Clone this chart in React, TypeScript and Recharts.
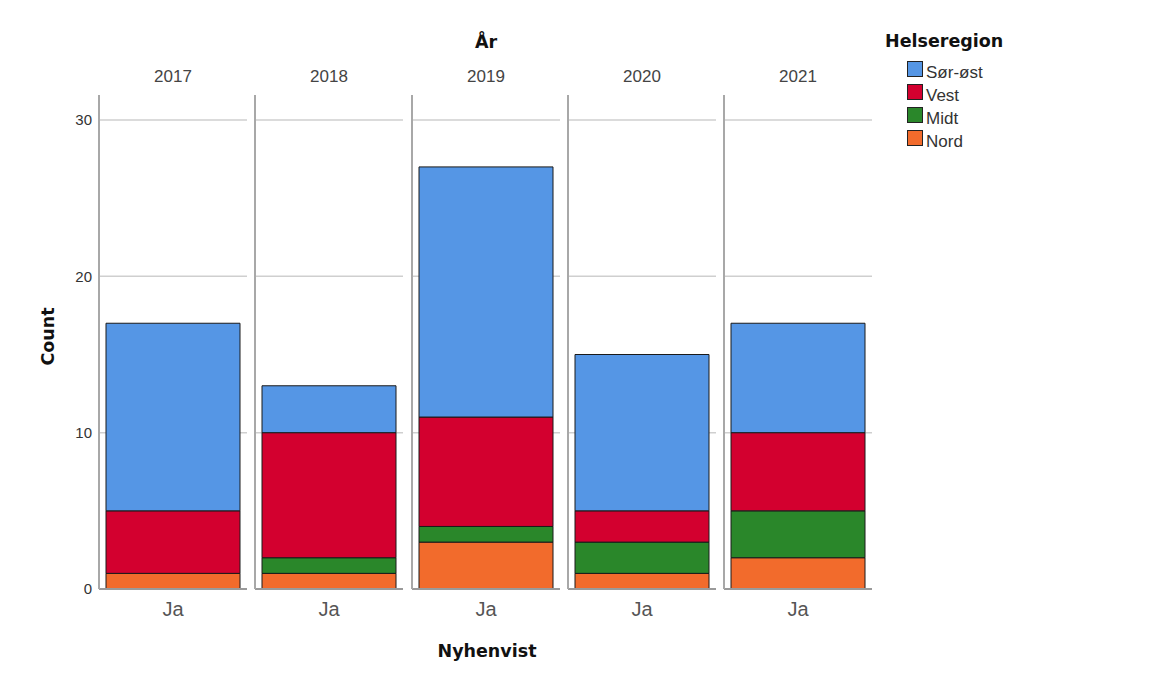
import React from 'react';
import { BarChart, Bar, XAxis, YAxis, CartesianGrid } from 'recharts';

// ---- data ----
const years = ['2017', '2018', '2019', '2020', '2021'];
const categories = ['Ja'];
const nord = [1, 1, 3, 1, 2];
const midt = [0, 1, 1, 2, 3];
const vest = [4, 8, 7, 2, 5];
const sorOst = [12, 3, 16, 10, 7];
const yTicks = [0, 10, 20, 30];

const series = [
  { key: 'nord', name: 'Nord', values: nord, color: '#F26B2C' },
  { key: 'midt', name: 'Midt', values: midt, color: '#2A872A' },
  { key: 'vest', name: 'Vest', values: vest, color: '#D3002F' },
  { key: 'sorOst', name: 'Sør-øst', values: sorOst, color: '#5596E5' },
];

// ---- layout ----
const PLOT_LEFT = 99;
const PLOT_TOP = 95;
const PLOT_BOTTOM = 589;
const PANEL_W = 148;
const STRIDE = 156.25;
const TOP_H = 30;
const BOTTOM_H = 40;
const Y_MAX = 31.6;

const REG = '"Liberation Sans", Arial, sans-serif';
const BOLD = '"DejaVu Sans", sans-serif';

const EmptyTick = () => <g />;

function Panel({ index }: { index: number }) {
  const first = index === 0;
  const yw = first ? PLOT_LEFT : 1;
  const row: any = { cat: categories[0], year: years[index] };
  series.forEach((s) => {
    row[s.key] = s.values[index];
  });
  const data = [row];
  const width = yw + PANEL_W;
  const height = TOP_H + (PLOT_BOTTOM - PLOT_TOP) + BOTTOM_H;
  return (
    <div
      style={{
        position: 'absolute',
        left: PLOT_LEFT + index * STRIDE - yw,
        top: PLOT_TOP - TOP_H,
        width,
        height,
      }}
    >
      <BarChart
        width={width}
        height={height}
        data={data}
        margin={{ top: 0, right: 0, bottom: 0, left: 0 }}
      >
        <CartesianGrid vertical={false} syncWithTicks stroke="#cfcfcf" strokeWidth={1.5} />
        <XAxis
          dataKey="cat"
          type="category"
          height={BOTTOM_H}
          axisLine={{ stroke: '#9a9a9a', strokeWidth: 2 }}
          tickLine={false}
          tickSize={0}
          tickMargin={13}
          tick={{ fill: '#555', fontSize: 20, fontFamily: REG }}
        />
        <XAxis
          xAxisId="top"
          dataKey="year"
          type="category"
          orientation="top"
          height={TOP_H}
          axisLine={false}
          tickLine={false}
          tickSize={0}
          tickMargin={13}
          tick={{ fill: '#444', fontSize: 17, fontFamily: REG }}
        />
        <YAxis
          type="number"
          domain={[0, Y_MAX]}
          ticks={yTicks}
          width={yw}
          axisLine={{ stroke: '#a8a8a8', strokeWidth: 2 }}
          tickLine={false}
          tickSize={0}
          tickMargin={7}
          tick={first ? { fill: '#333', fontSize: 15, fontFamily: REG } : EmptyTick}
        />
        {series.map((s) => (
          <Bar
            key={s.key}
            dataKey={s.key}
            name={s.name}
            stackId="a"
            fill={s.color}
            stroke="#1a1a1a"
            strokeWidth={1}
            barSize={134}
            isAnimationActive={false}
          />
        ))}
      </BarChart>
    </div>
  );
}

export default function App() {
  const legendItems = [...series].reverse();
  return (
    <div
      style={{
        position: 'absolute',
        left: 0,
        top: 0,
        width: 1149,
        height: 675,
        background: '#fff',
        overflow: 'hidden',
      }}
    >
      <svg width={1149} height={675} style={{ position: 'absolute', left: 0, top: 0 }}>
        <text x={486} y={48} textAnchor="middle" fontFamily={BOLD} fontWeight="bold" fontSize={17.5} fill="#111">
          År
        </text>
        <text x={885} y={47} textAnchor="start" fontFamily={BOLD} fontWeight="bold" fontSize={17.5} fill="#111">
          Helseregion
        </text>
        {legendItems.map((s, k) => (
          <g key={s.key}>
            <rect x={907.5} y={61.5 + 23 * k} width={15} height={15} fill={s.color} stroke="#222" strokeWidth={1} />
            <text x={926} y={78 + 23 * k} fontFamily={REG} fontSize={17} fill="#333">
              {s.name}
            </text>
          </g>
        ))}
        <text
          x={54}
          y={336.5}
          transform="rotate(-90 54 336.5)"
          textAnchor="middle"
          fontFamily={BOLD}
          fontWeight="bold"
          fontSize={17.5}
          fill="#111"
        >
          Count
        </text>
        <text x={487} y={657} textAnchor="middle" fontFamily={BOLD} fontWeight="bold" fontSize={17.5} fill="#111">
          Nyhenvist
        </text>
      </svg>
      {years.map((y, i) => (
        <Panel key={y} index={i} />
      ))}
    </div>
  );
}
